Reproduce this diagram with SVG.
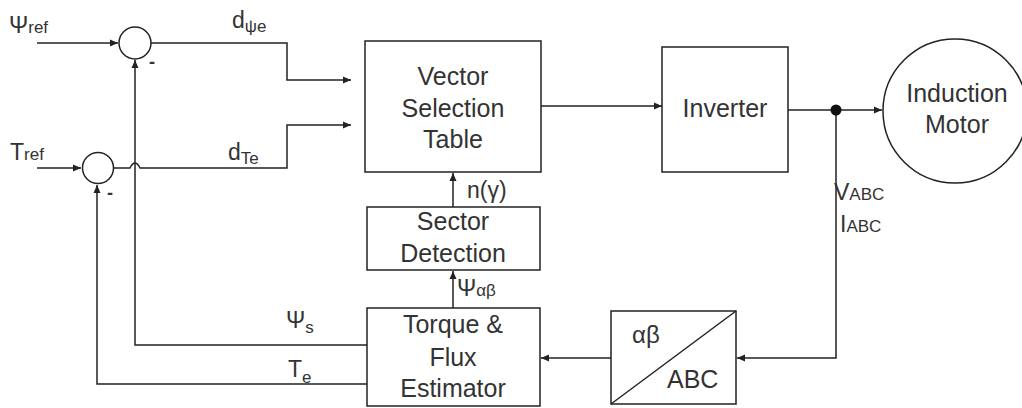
<svg xmlns="http://www.w3.org/2000/svg" width="1022" height="408" viewBox="0 0 1022 408">
<defs>
<style>
.ln{fill:none;stroke:#222;stroke-width:1.5}
.bx{fill:#fff;stroke:#222;stroke-width:1.5}
.t{font-family:"Liberation Sans",Arial,sans-serif;fill:#333}
.bt{font-size:25px;text-anchor:middle}
.lb{font-size:23px}
.sb{font-size:17px}
</style>
<marker id="ar" markerUnits="userSpaceOnUse" markerWidth="9" markerHeight="8" refX="8" refY="4" orient="auto">
<path d="M0,0.5 L8,4 L0,7.5 z" fill="#222"/>
</marker>
</defs>
<rect width="1022" height="408" fill="#fff"/>

<g id="connectors">
<path class="ln" d="M37,43 H118" marker-end="url(#ar)"/>
<path class="ln" d="M151,43 H287 V80 H351" marker-end="url(#ar)"/>
<path class="ln" d="M37,168 H81" marker-end="url(#ar)"/>
<path class="ln" d="M113,168 H130 Q135,158 140,168 H287 V125 H351" marker-end="url(#ar)"/>
<path class="ln" d="M367,345 H135 V60" marker-end="url(#ar)"/>
<path class="ln" d="M367,384 H97 V185" marker-end="url(#ar)"/>
<path class="ln" d="M453,207 V173" marker-end="url(#ar)"/>
<path class="ln" d="M453,308 V271" marker-end="url(#ar)"/>
<path class="ln" d="M541,106 H662" marker-end="url(#ar)"/>
<path class="ln" d="M788,110 H882" marker-end="url(#ar)"/>
<path class="ln" d="M836,110 V358 H737" marker-end="url(#ar)"/>
<path class="ln" d="M611,358 H541" marker-end="url(#ar)"/>
<circle cx="836" cy="110" r="5.5" fill="#111"/>
</g>

<g id="sum-psi">
<circle class="bx" cx="135" cy="43" r="16"/>
<text class="t" x="149" y="68" font-size="18" font-weight="bold">-</text>
</g>
<g id="sum-torque">
<circle class="bx" cx="98" cy="168" r="15.5"/>
<text class="t" x="107" y="199" font-size="18" font-weight="bold">-</text>
</g>

<g id="vector-selection-table">
<rect class="bx" x="365" y="41" width="176" height="131"/>
<text class="t bt" x="453" y="85">Vector</text>
<text class="t bt" x="453" y="117">Selection</text>
<text class="t bt" x="453" y="148">Table</text>
</g>
<g id="inverter">
<rect class="bx" x="662" y="47" width="126" height="125"/>
<text class="t bt" x="725" y="117">Inverter</text>
</g>
<g id="induction-motor">
<circle class="bx" cx="955" cy="111" r="72"/>
<text class="t bt" x="957" y="102">Induction</text>
<text class="t bt" x="957" y="133">Motor</text>
</g>
<g id="sector-detection">
<rect class="bx" x="367" y="207" width="173" height="63"/>
<text class="t bt" x="453" y="230">Sector</text>
<text class="t bt" x="453" y="262">Detection</text>
</g>
<g id="torque-flux-estimator">
<rect class="bx" x="367" y="308" width="173" height="98"/>
<text class="t bt" x="453" y="333">Torque &amp;</text>
<text class="t bt" x="453" y="366">Flux</text>
<text class="t bt" x="453" y="397">Estimator</text>
</g>
<g id="ab-abc-converter">
<rect class="bx" x="611" y="311" width="125" height="93"/>
<path class="ln" d="M611,404 L736,311"/>
<text class="t" x="632" y="343" font-size="24">αβ</text>
<text class="t" x="667" y="388" font-size="25">ABC</text>
</g>

<g id="labels">
<text class="t lb" x="9" y="33">Ψ<tspan class="sb">ref</tspan></text>
<text class="t lb" x="10" y="160">T<tspan class="sb">ref</tspan></text>
<text class="t lb" x="232" y="28">d<tspan class="sb" dy="4">ψe</tspan></text>
<text class="t lb" x="228" y="160">d<tspan class="sb" dy="4">Te</tspan></text>
<text class="t lb" x="286" y="328">Ψ<tspan class="sb" dy="5">s</tspan></text>
<text class="t lb" x="288" y="377">T<tspan class="sb" dy="6">e</tspan></text>
<text class="t lb" x="467" y="198">n(γ)</text>
<text class="t lb" x="457" y="296">Ψ<tspan class="sb">αβ</tspan></text>
<text class="t lb" x="834" y="200">V<tspan class="sb">ABC</tspan></text>
<text class="t lb" x="840" y="232">I<tspan class="sb">ABC</tspan></text>
</g>
</svg>
